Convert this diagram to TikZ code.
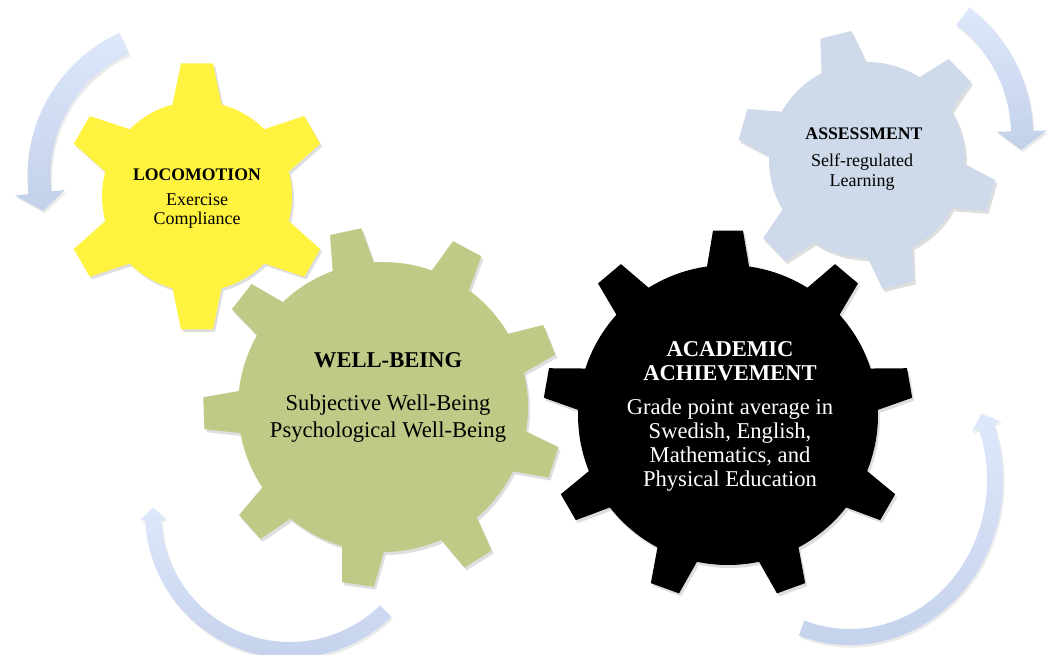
\documentclass[tikz,border=0pt]{standalone}
\usepackage{fontspec}
\setmainfont{Liberation Serif}
\definecolor{gyellow}{RGB}{255,243,63}
\definecolor{ggreen}{RGB}{191,202,134}
\definecolor{gblue}{RGB}{206,218,233}
\definecolor{atop}{RGB}{222,232,251}
\definecolor{abot}{RGB}{194,208,234}
\tikzset{
  gearshadow/.style={fill=black, opacity=0.13},
  arrowshadow/.style={fill=black, opacity=0.08},
  arrowfill/.style={top color=atop, bottom color=abot},
  txt/.style={anchor=base, inner sep=0pt},
  smalltitle/.style={txt, font=\fontsize{17.7}{20}\selectfont\bfseries},
  smallbody/.style={txt, font=\fontsize{18}{20}\selectfont},
  bigtitle/.style={txt, font=\fontsize{22.6}{24}\selectfont\bfseries},
  bigbody/.style={txt, font=\fontsize{22.6}{24}\selectfont},
}
% #1 style, #2 cx, #3 cy, #4 teeth, #5 first angle, #6 body radius, #7 tip radius, #8 base half-width, #9 tip half-width
\newcommand{\drawgear}[9]{%
  \pgfmathsetmacro\gbb{asin(#8/#6)}%
  \pgfmathsetmacro\gbt{asin(#9/#7)}%
  \pgfmathsetmacro\gstep{360/#4}%
  \pgfmathtruncatemacro\glast{#4-1}%
  \path[#1, shift={(#2,#3)}] ({#5-\gbb}:#6)
    \foreach \k in {0,...,\glast}{
      -- ({#5+\k*\gstep-\gbb}:#6) -- ({#5+\k*\gstep-\gbt}:#7)
      -- ({#5+\k*\gstep+\gbt}:#7) -- ({#5+\k*\gstep+\gbb}:#6)
      arc[start angle={#5+\k*\gstep+\gbb}, end angle={#5+(\k+1)*\gstep-\gbb}, radius=#6]
    } -- cycle;
}
% #1 style, #2 cx, #3 cy, #4 rx, #5 ry, #6 half width, #7 head half width, #8 tail angle, #9 head base angle; tip angle in \tipang
\newcommand{\circarrow}[9]{%
  \pgfmathsetmacro\aox{#4+#6}\pgfmathsetmacro\aoy{#5+#6}%
  \pgfmathsetmacro\aix{#4-#6}\pgfmathsetmacro\aiy{#5-#6}%
  \pgfmathsetmacro\hox{#4+#7}\pgfmathsetmacro\hoy{#5+#7}%
  \pgfmathsetmacro\hix{#4-#7}\pgfmathsetmacro\hiy{#5-#7}%
  \path[#1, shift={(#2,#3)}] ({\aox*cos(#8)},{\aoy*sin(#8)})
    arc[start angle=#8, end angle=#9, x radius=\aox, y radius=\aoy]
    -- ({\hox*cos(#9)},{\hoy*sin(#9)})
    -- ({#4*cos(\tipang)},{#5*sin(\tipang)})
    -- ({\hix*cos(#9)},{\hiy*sin(#9)})
    -- ({\aix*cos(#9)},{\aiy*sin(#9)})
    arc[start angle=#9, end angle=#8, x radius=\aix, y radius=\aiy] -- cycle;
}
\begin{document}
\begin{tikzpicture}[x=1pt,y=1pt]
\useasboundingbox (0,0) rectangle (1052,-655);
\fill[white] (0,0) rectangle (1052,-655);

% circular arrows
\def\tipang{193.8}
\circarrow{arrowshadow}{186.5}{-178.5}{146}{146}{11.5}{25}{114.6}{186.6}
\circarrow{arrowfill}{185}{-176}{146}{146}{11.5}{25}{114.6}{186.6}
\def\tipang{-5.7}
\circarrow{arrowshadow}{874.5}{-137.5}{149}{149}{11}{25}{52.9}{1.5}
\circarrow{arrowfill}{873}{-135}{149}{149}{11}{25}{52.9}{1.5}
\def\tipang{-182.3}
\circarrow{arrowshadow}{291.5}{-515.5}{137}{137}{8}{13}{-45.7}{-177.3}
\circarrow{arrowfill}{290}{-513}{137}{137}{8}{13}{-45.7}{-177.3}
\def\tipang{25}
\circarrow{arrowshadow}{851.5}{-482.5}{145}{157}{8}{15}{-109.5}{20}
\circarrow{arrowfill}{850}{-480}{145}{157}{8}{15}{-109.5}{20}

% gears
\drawgear{gearshadow}{199}{-199}{6}{90}{95}{134}{24.5}{16}
\drawgear{fill=gyellow}{197}{-196.4}{6}{90}{95}{134}{24.5}{16}
\drawgear{gearshadow}{385}{-410}{9}{22}{145}{180}{21}{16}
\drawgear{fill=ggreen}{383}{-407}{9}{22}{145}{180}{21}{16}
\drawgear{gearshadow}{730}{-418}{9}{90}{150}{185}{21}{15}
\drawgear{fill=black}{728}{-415}{9}{90}{150}{185}{21}{15}
\drawgear{gearshadow}{869}{-163}{6}{104}{98}{130}{23}{16}
\drawgear{fill=gblue}{867}{-160}{6}{104}{98}{130}{23}{16}

% texts
\node[smalltitle] (loct) at (197,-180.7) {LOCOMOTION};
\node[smallbody] (loc1) at (197,-205.7) {Exercise};
\node[smallbody] (loc2) at (197,-225) {Compliance};

\node[bigtitle] (wbt) at (388,-367.7) {WELL-BEING};
\node[bigbody] (wb1) at (388,-410.7) {Subjective Well-Being};
\node[bigbody] (wb2) at (388,-437.3) {Psychological Well-Being};

\node[bigtitle, text=white] (aat1) at (730,-356.7) {ACADEMIC};
\node[bigtitle, text=white] (aat2) at (730,-380) {ACHIEVEMENT};
\node[bigbody, text=white] (aa1) at (730,-414) {Grade point average in};
\node[bigbody, text=white] (aa2) at (730,-438) {Swedish, English,};
\node[bigbody, text=white] (aa3) at (730,-462) {Mathematics, and};
\node[bigbody, text=white] (aa4) at (730,-486.7) {Physical Education};

\node[smalltitle] (ast) at (864,-139.3) {ASSESSMENT};
\node[smallbody] (as1) at (862,-166.7) {Self-regulated};
\node[smallbody] (as2) at (862,-186.7) {Learning};
\end{tikzpicture}
\end{document}
